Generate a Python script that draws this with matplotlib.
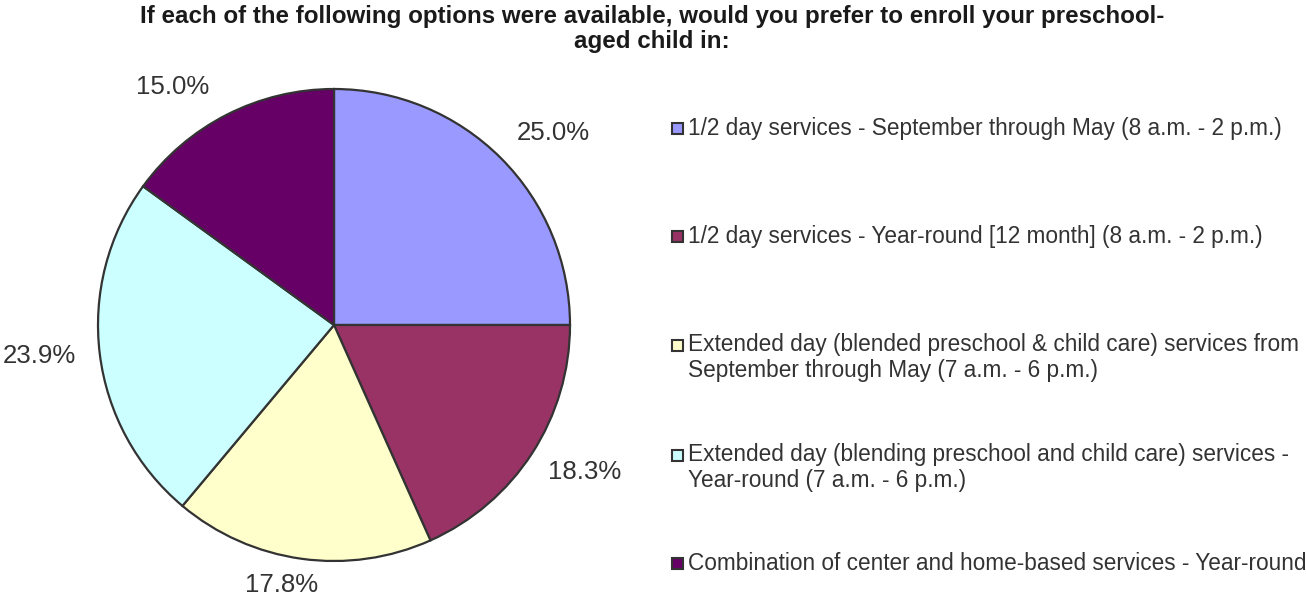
import matplotlib
matplotlib.use("Agg")
import matplotlib.pyplot as plt
from matplotlib.patches import Rectangle
import numpy as np

plt.rcParams['font.family'] = ['Liberation Sans', 'DejaVu Sans']

# ---- data ----
title_text = ("If each of the following options were available, would you prefer to enroll your preschool-\n"
              "aged child in:")
categories = [
    "1/2 day services - September through May (8 a.m. - 2 p.m.)",
    "1/2 day services - Year-round [12 month] (8 a.m. - 2 p.m.)",
    "Extended day (blended preschool & child care) services from\nSeptember through May (7 a.m. - 6 p.m.)",
    "Extended day (blending preschool and child care) services -\nYear-round (7 a.m. - 6 p.m.)",
    "Combination of center and home-based services - Year-round",
]
values = [25.0, 18.3, 17.8, 23.9, 15.0]
colors = ["#9999FF", "#993366", "#FFFFCC", "#CCFFFF", "#660066"]

# ---- layout (styles / positions) ----
W, H = 1306, 602
label_r = [1.233, 1.233, 1.123, 1.257, 1.217]
label_shift_deg = [-3.8, 2.5, -3.4, -1.0, 7.1]
edge = "#333333"
txt = "#333333"

fig = plt.figure(figsize=(W / 100, H / 100), dpi=100)
fig.patch.set_facecolor("white")

def fx(x):
    return x / W

def fy(y):
    return 1 - y / H

cx, cy, R = 334, 325, 236
ax = fig.add_axes([fx(cx - R), fy(cy + R), 2 * R / W, 2 * R / H])
wedges, _ = ax.pie(values, colors=colors, startangle=90, counterclock=False,
                   radius=1.0, wedgeprops=dict(edgecolor=edge, linewidth=1.6))
ax.set_xlim(-1, 1)
ax.set_ylim(-1, 1)
ax.set_aspect("auto")
ax.axis("off")

for w, v, rf, sh in zip(wedges, values, label_r, label_shift_deg):
    th = np.deg2rad((w.theta1 + w.theta2) / 2 + sh)
    ax.text(rf * np.cos(th), rf * np.sin(th), f"{v:.1f}%", ha="center", va="center",
            fontsize=18.6, color=txt, clip_on=False)

fig.text(0.499, fy(5), title_text, ha="center", va="top", fontsize=17.4,
         fontweight="bold", color="#1a1a1a", linespacing=1.1)

# legend (manual)
leg_y = [128, 236, 345, 455, 563]
mk_x, mk_s, tx_x, line_h = 672, 11, 688, 25
for lab, col, y in zip(categories, colors, leg_y):
    fig.add_artist(Rectangle((fx(mk_x), fy(y + mk_s / 2)), mk_s / W, mk_s / H,
                             transform=fig.transFigure, facecolor=col,
                             edgecolor=edge, linewidth=1.5))
    for i, line in enumerate(lab.split("\n")):
        fig.text(fx(tx_x), fy(y + i * line_h), line, ha="left", va="center",
                 fontsize=16.3, color=txt)

fig.savefig("out.png", dpi=100, facecolor="white")
